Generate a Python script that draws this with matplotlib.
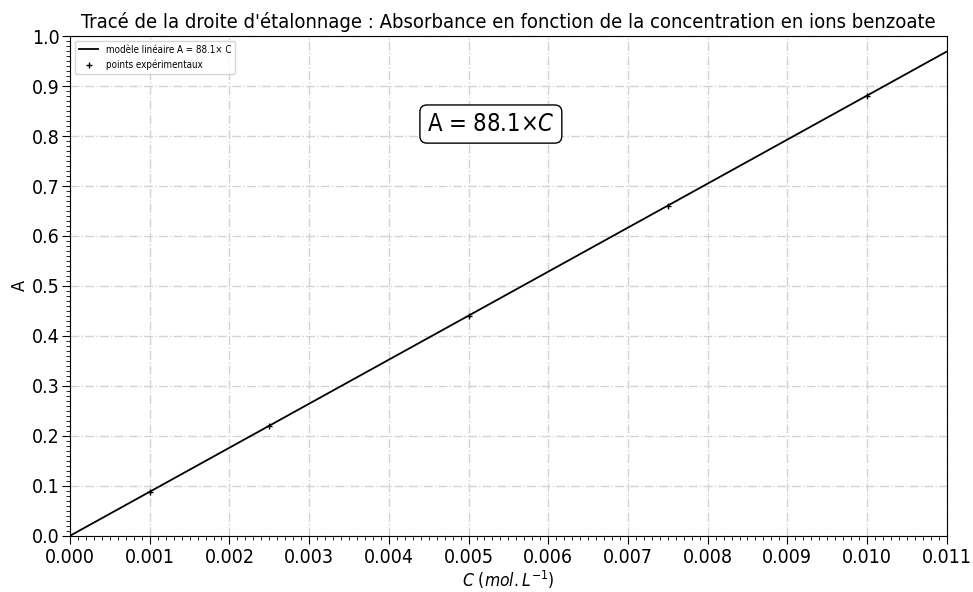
import matplotlib
matplotlib.use("Agg")
import matplotlib.pyplot as plt
from matplotlib.ticker import MultipleLocator
import numpy as np

plt.rcParams["font.family"] = "DejaVu Sans"
plt.rcParams["font.stretch"] = "condensed"

# données expérimentales
conc = [0.001, 0.0025, 0.005, 0.0075, 0.010]
absorb = [0.0881, 0.2203, 0.4405, 0.6608, 0.881]
pente = 88.1
x_modele = np.array([0.0, 0.011])

fig, ax = plt.subplots(figsize=(9.73, 5.92), dpi=100)

ax.plot(x_modele, pente * x_modele, color="black", linewidth=1.3,
        label="modèle linéaire A = 88.1× C")
ax.plot(conc, absorb, "+", color="black", markersize=5,
        label="points expérimentaux")

ax.set_xlim(0, 0.011)
ax.set_ylim(0, 1.0)
ax.xaxis.set_major_locator(MultipleLocator(0.001))
ax.xaxis.set_minor_locator(MultipleLocator(0.0001))
ax.yaxis.set_major_locator(MultipleLocator(0.1))
ax.yaxis.set_minor_locator(MultipleLocator(0.01))
ax.tick_params(axis="both", which="major", labelsize=14, length=6)
ax.tick_params(axis="both", which="minor", length=3)
ax.tick_params(axis="x", which="major", pad=3)
ax.tick_params(axis="y", which="major", pad=1.5)
ax.grid(True, which="major", linestyle="-.", color="lightgray", linewidth=1)

ax.set_xlabel(r"$C\ (mol.L^{-1})$", fontsize=12.5, labelpad=1)
ax.set_ylabel("A", fontsize=13, labelpad=2)
ax.set_title("Tracé de la droite d'étalonnage : Absorbance en fonction de la concentration en ions benzoate",
             fontsize=14.5)

ax.text(0.00528, 0.824, r"A = 88.1$\times C$", fontsize=17, ha="center", va="center",
        bbox=dict(boxstyle="round,pad=0.3", facecolor="white", edgecolor="black"))

ax.legend(loc="upper left", fontsize=7)

fig.subplots_adjust(left=0.072, right=0.973, top=0.939, bottom=0.095)
fig.savefig("out.png")
